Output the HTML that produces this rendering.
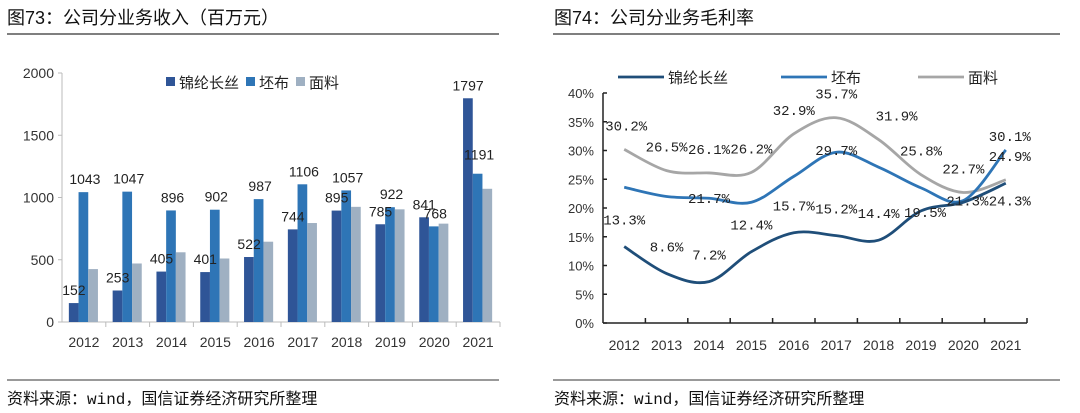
<!DOCTYPE html>
<html><head><meta charset="utf-8"><style>
body{margin:0;background:#fff;width:1080px;height:413px;overflow:hidden;font-family:"Liberation Sans","Noto Sans CJK SC",sans-serif;}
svg{position:absolute;left:0;top:0}
</style></head><body>
<svg id="s" width="1080" height="413">
<text x="7" y="24" font-size="18" fill="#111" font-family="Liberation Sans,Noto Sans CJK SC,sans-serif">图73：公司分业务收入（百万元）</text>
<line x1="7" y1="34" x2="499" y2="34" stroke="#333" stroke-width="1.2"/>
<text x="554" y="24" font-size="18" fill="#111" font-family="Liberation Sans,Noto Sans CJK SC,sans-serif">图74：公司分业务毛利率</text>
<line x1="553" y1="34" x2="1060" y2="34" stroke="#333" stroke-width="1.2"/>
<line x1="7" y1="380" x2="499" y2="380" stroke="#333" stroke-width="1"/>
<line x1="553" y1="380" x2="1060" y2="380" stroke="#333" stroke-width="1"/>
<text x="7" y="404" font-size="16" fill="#111" font-family="Liberation Mono,Noto Sans CJK SC,sans-serif">资料来源：wind，国信证券经济研究所整理</text>
<text x="554" y="404" font-size="16" fill="#111" font-family="Liberation Mono,Noto Sans CJK SC,sans-serif">资料来源：wind，国信证券经济研究所整理</text>
<g id="left"></g><g id="right"></g>
</svg>
<script>
const years=["2012","2013","2014","2015","2016","2017","2018","2019","2020","2021"];
const nylon=[152,253,405,401,522,744,895,785,841,1797];
const greige=[1043,1047,896,902,987,1106,1057,922,768,1191];
const fabric=[425,470,560,510,645,795,925,905,790,1070];
const revTicks=[0,500,1000,1500,2000];
const mNylon=[13.3,8.6,7.2,12.4,15.7,15.2,14.4,19.5,21.0,24.3];
const mGreige=[23.6,22.0,21.7,21.0,25.5,29.7,27.1,23.5,21.3,30.1];
const mFabric=[30.2,26.5,26.1,26.2,32.9,35.7,31.9,25.8,22.7,24.9];
const pctTicks=[0,5,10,15,20,25,30,35,40];
const NS="http://www.w3.org/2000/svg";
function mk(p,t,a,txt){const e=document.createElementNS(NS,t);for(const k in a)e.setAttribute(k,a[k]);if(txt!==undefined)e.textContent=txt;p.appendChild(e);return e;}
const F="Liberation Sans,Noto Sans CJK SC,sans-serif";
// left chart
const L=document.getElementById('left');
const lx0=62,lx1=500,ly0=322,ly1=73,lband=(lx1-lx0)/years.length;
const ly=v=>ly0-(v/2000)*(ly0-ly1);
const lc=i=>lx0+lband*(i+0.5);
let e=mk(L,'line',{x1:lx0,y1:ly1,x2:lx0,y2:ly0,stroke:'#bbb'});

e=mk(L,'line',{x1:lx0,y1:ly0,x2:lx1,y2:ly0,stroke:'#bbb'});

revTicks.forEach(t=>{
 e=mk(L,'line',{x1:lx0-4,y1:ly(t),x2:lx0,y2:ly(t),stroke:'#bbb'});
 
 e=mk(L,'text',{x:lx0-8,y:ly(t)+5,'text-anchor':'end','font-size':14,fill:'#333','font-family':F},t);
 
});
const bw=9.7;
const series=[[nylon,'#2f5597','nylon-bar'],[greige,'#2e75b6','greige-bar'],[fabric,'#9fb0c2','fabric-bar']];
years.forEach((y,i)=>{
 e=mk(L,'line',{x1:lx0+lband*(i+1),y1:ly0,x2:lx0+lband*(i+1),y2:ly0+5,stroke:'#bbb'});
 
 e=mk(L,'text',{x:lc(i),y:ly0+25,'text-anchor':'middle','font-size':14,fill:'#333','font-family':F},y);
 
 series.forEach(([arr,col,nm],k)=>{
  const x=lc(i)-1.5*bw+k*bw-0.5;
  e=mk(L,'rect',{x:x,y:ly(arr[i]),width:bw,height:ly0-ly(arr[i]),fill:col});
  
 });
 e=mk(L,'text',{x:lc(i)-10,y:ly(nylon[i])-8,'text-anchor':'middle','font-size':14,fill:'#222','font-family':F},nylon[i]);
 
 e=mk(L,'text',{x:lc(i)+1,y:ly(greige[i])-(i==9?14:8),'text-anchor':'middle','font-size':14,fill:'#222','font-family':F},greige[i]);
 
});
// redraw 2021 dark bar on top of its label region to mimic overlap
const legL=[['锦纶长丝','#2f5597',166],['坯布','#2e75b6',246],['面料','#9fb0c2',296]];
legL.forEach(([t,c,x])=>{
 e=mk(L,'rect',{x:x,y:77,width:9,height:9,fill:c});
 
 e=mk(L,'text',{x:x+13,y:88,'font-size':15,fill:'#222','font-family':F},t);
 
});
// right chart
const R=document.getElementById('right');
const rx0=603,rx1=1027,ry0=323,ry1=93,rband=(rx1-rx0)/years.length;
const ry=v=>ry0-(v/40)*(ry0-ry1);
const rc=i=>rx0+rband*(i+0.5);
e=mk(R,'line',{x1:rx0,y1:ry1,x2:rx0,y2:ry0,stroke:'#222','stroke-width':1.5});

e=mk(R,'line',{x1:rx0,y1:ry0,x2:rx1,y2:ry0,stroke:'#222','stroke-width':1.5});

pctTicks.forEach(t=>{
 e=mk(R,'line',{x1:rx0,y1:ry(t),x2:rx0+4,y2:ry(t),stroke:'#222','stroke-width':1.5});
 
 e=mk(R,'text',{x:rx0-9,y:ry(t)+5,'text-anchor':'end','font-size':13,fill:'#333','font-family':F},t+'%');
 
});
years.forEach((y,i)=>{
 e=mk(R,'line',{x1:rx0+rband*(i+1),y1:ry0,x2:rx0+rband*(i+1),y2:ry0-5,stroke:'#222','stroke-width':1.5});
 
 e=mk(R,'text',{x:rc(i),y:ry0+27,'text-anchor':'middle','font-size':14,fill:'#333','font-family':F},y);
 
});
function smooth(arr){
 const p=arr.map((v,i)=>[rc(i),ry(v)]);let d='M'+p[0][0]+','+p[0][1];
 for(let i=0;i<p.length-1;i++){const p0=p[i-1]||p[i],p1=p[i],p2=p[i+1],p3=p[i+2]||p2;
  const c1=[p1[0]+(p2[0]-p0[0])/6,p1[1]+(p2[1]-p0[1])/6],c2=[p2[0]-(p3[0]-p1[0])/6,p2[1]-(p3[1]-p1[1])/6];
  d+=' C'+c1+' '+c2+' '+p2;}
 return d;}
const lines=[[mFabric,'#a6a6a6','fabric-margin-line'],[mGreige,'#2e75b6','greige-margin-line'],[mNylon,'#1f4e79','nylon-margin-line']];
lines.forEach(([arr,c,nm])=>{
 e=mk(R,'path',{d:smooth(arr),fill:'none',stroke:c,'stroke-width':2.8});
 
});
const show={fabric:[1,1,1,1,1,1,1,1,1,1],greige:[0,0,1,0,0,1,0,0,1,1],nylon:[1,1,1,1,1,1,1,1,0,1]};
const labF="Liberation Mono,Noto Sans CJK SC,sans-serif";
function lab(arr,key,dy,i,dx,ddy){
 if(!show[key][i])return;
 e=mk(R,'text',{x:rc(i)+(dx||0),y:ry(arr[i])+dy+(ddy||0),'text-anchor':'middle','font-size':14,fill:'#222','font-family':labF},arr[i].toFixed(1)+'%');
 
}
years.forEach((y,i)=>{
 lab(mFabric,'fabric',-19,i,i==0?2:(i==6?18:(i==9?4:0)),0);
 lab(mGreige,'greige',5,i,i==8?4:(i==9?4:0),i==9?-14:(i==5?-2:0));
 lab(mNylon,'nylon',-22,i,i==7?4:(i==9?4:0),i==7?28:(i==9?44:0));
});
const legR=[['锦纶长丝','#1f4e79',618],['坯布','#2e75b6',781],['面料','#a6a6a6',918]];
legR.forEach(([t,c,x])=>{
 e=mk(R,'line',{x1:x,y1:77,x2:x+46,y2:77,stroke:c,'stroke-width':2.8});
 
 e=mk(R,'text',{x:x+50,y:83,'font-size':15,fill:'#222','font-family':F},t);
 
});
</script>
</body></html>
